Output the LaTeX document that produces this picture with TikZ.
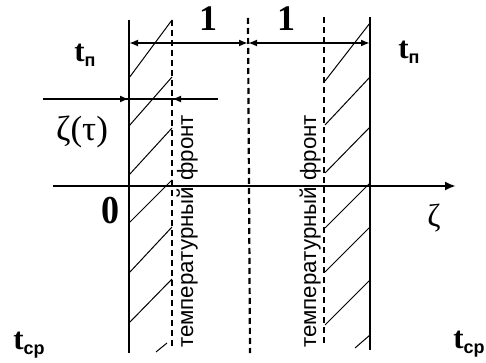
\documentclass[tikz,border=0pt]{standalone}
\usepackage{fontspec}
\setmainfont{Liberation Serif}
\setsansfont{Liberation Sans}
\usetikzlibrary{arrows.meta}
\tikzset{
  solidline/.style={line width=2.6pt},
  dashline/.style={line width=2.2pt, dash pattern=on 6pt off 4pt},
  hatch/.style={line width=1pt},
  dimline/.style={line width=2pt},
  tip/.style={-{Latex[length=9pt,width=7pt]}},
  bigbold/.style={font=\fontsize{36}{36}\selectfont\bfseries, inner sep=0pt},
  tlabel/.style={font=\fontsize{31}{31}\selectfont, inner sep=0pt},
  greek/.style={font=\fontsize{35}{35}\selectfont, inner sep=0pt},
  frontlabel/.style={font=\sffamily\fontsize{22.3}{22.3}\selectfont, rotate=90, anchor=base west, inner sep=0pt},
}
\newcommand{\tsub}[1]{\textbf{t}\raisebox{-5pt}{\sffamily\bfseries\fontsize{18}{18}\selectfont #1}}
\begin{document}
\begin{tikzpicture}[x=1pt,y=-1pt]
\useasboundingbox (0,0) rectangle (486,363);
% key points
\coordinate (L1) at (129,20);  \coordinate (L2) at (129,353);
\coordinate (R1) at (370,17);  \coordinate (R2) at (370,350);
\coordinate (D1a) at (172,20); \coordinate (D1b) at (172,347);
\coordinate (D2a) at (248,18); \coordinate (D2b) at (250,353);
\coordinate (D3a) at (324,17); \coordinate (D3b) at (324,345);
\coordinate (A1) at (53,186);  \coordinate (A2) at (456,186);
\coordinate (Z1) at (43,99);   \coordinate (Z2) at (218,99);
\coordinate (ZL) at (129,99);  \coordinate (ZR) at (172,99);
\coordinate (M1) at (129,43);  \coordinate (M2) at (248,43); \coordinate (M3) at (370,43);
% hatching
\foreach \a/\b in {78/20,126/77,175/128,223/180,273/227,323/279}
  \draw[hatch] (129,\a) -- (172,\b);
\draw[hatch] (156,352) -- (167,343);
\foreach \a/\b in {81/23,125/77,173/127,228/183,272/227,325/280}
  \draw[hatch] (325,\a) -- (370,\b);
\draw[hatch] (355,348) -- (370,335);
% verticals
\draw[solidline] (L1) -- (L2);
\draw[solidline] (R1) -- (R2);
\draw[dashline] (D1a) -- (D1b);
\draw[dashline] (D2a) -- (D2b);
\draw[dashline] (D3a) -- (D3b);
% axis
\draw[solidline, line width=2.4pt, -{Latex[length=11pt,width=9pt]}] (A1) -- (A2);
% zeta(tau) line
\draw[dimline] (Z1) -- (Z2);
\draw[dimline, tip] (Z1) -- (ZL);
\draw[dimline, tip] (Z2) -- (ZR);
% dimension line
\draw[dimline, {Latex[length=9pt,width=7pt]}-{Latex[length=9pt,width=7pt]}] (M1) -- (M2);
\draw[dimline, {Latex[length=9pt,width=7pt]}-{Latex[length=9pt,width=7pt]}] (M2) -- (M3);
% labels
\node[bigbold] (one1) at (208,19) {1};
\node[bigbold] (one2) at (286,19) {1};
\node[tlabel] (tp1) at (85,55) {\tsub{п}};
\node[tlabel] (tp2) at (409,52) {\tsub{п}};
\node[tlabel] (tc1) at (29,345) {\tsub{ср}};
\node[tlabel] (tc2) at (469,344) {\tsub{ср}};
\node[greek] (zt) at (82,132) {ζ(τ)};
\node[bigbold, yscale=1.1] (zero) at (110,211) {0};
\node[greek, font=\fontsize{32}{32}\selectfont] (zeta) at (434,218) {ζ};
\node[frontlabel] (f1) at (193,348) {температурный фронт};
\node[frontlabel] (f2) at (316,348) {температурный фронт};
\end{tikzpicture}
\end{document}
